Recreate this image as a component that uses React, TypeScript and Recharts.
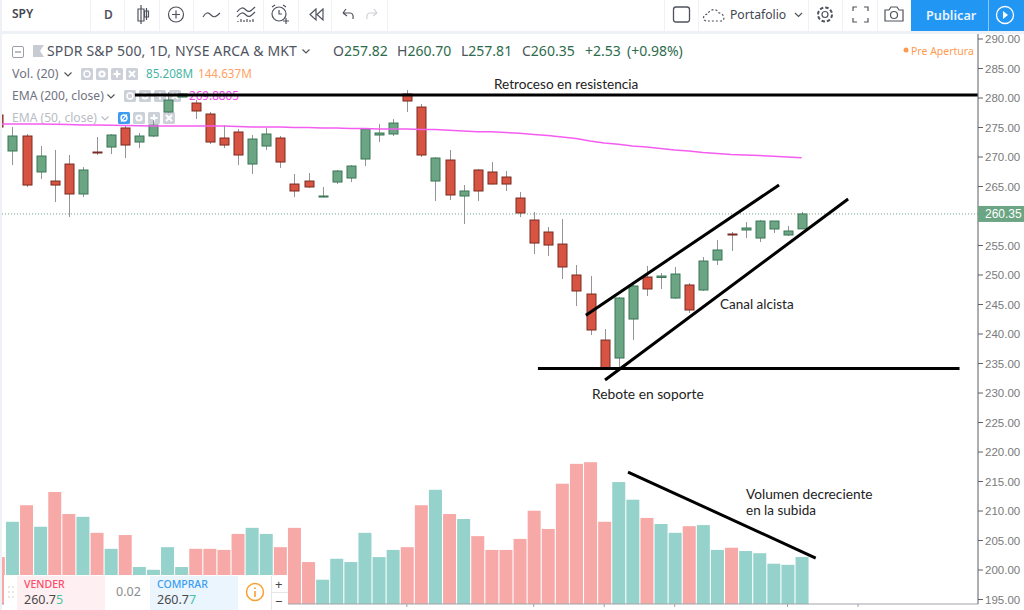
import React from "react";
import { ComposedChart, Bar, Line, XAxis, YAxis, ReferenceLine } from "recharts";

const indices = [-1,0,1,2,3,4,5,6,7,8,9,10,11,12,13,14,15,16,17,18,19,20,21,22,23,24,25,26,27,28,29,30,31,32,33,34,35,36,37,38,39,40,41,42,43,44,45,46,47,48,49,50,51,52,53,54,55,56];
const opens = [277.12,271.02,273.56,267.46,265.93,268.81,263.73,270.85,271.69,274.92,272.54,273.56,277.63,280.17,279.15,277.29,273.22,274.24,268.81,271.86,273.22,265.42,265.93,263.22,265.76,266.44,269.66,273.73,273.9,280.68,278.47,265.93,269.49,263.39,267.8,267.46,266.61,263.05,259.32,257.29,255.25,250,246.78,238.98,235.93,242.54,249.66,249.58,246.1,248.31,247.46,252.54,256.95,257.63,256.27,257.8,256.78,257.82];
const highs = [277.12,275.08,273.9,271.86,271.19,270.34,268.3,273.39,273.9,275.25,274.07,276.27,281,280.85,279.66,277.63,275.42,274.75,273.73,274.92,273.56,267.12,267.29,264.92,267.8,268.64,274.75,275.59,276.44,281.36,278.98,270,271.19,265.25,267.97,269.15,267.63,264.07,260.68,258.14,259.49,251.7,249.83,240.85,246.27,248.31,251.53,250.34,251.36,248.64,253.05,255.93,257.29,258.98,259.32,259.15,258.31,260.7];
const lows = [275.08,268.64,264.9,266.27,262.37,259.83,263.22,270.34,270.51,269.83,271.52,273.39,277.46,280.1,276.44,272.2,271.52,268.64,267.12,271.19,268.14,263.22,264.75,263.14,265.42,265.76,268.47,272.54,273.56,277.63,270,262.54,262.71,258.64,262.54,265.34,264.24,259.83,253.56,253.22,249.32,244.75,239.83,234.07,234.24,238.98,246.44,247.63,245.93,243.56,247.29,251.7,254.07,256.27,255.59,257.12,256.61,257.81];
const closes = [275.08,273.56,265.25,270.17,265.25,263.73,267.8,270.68,273.73,272.03,273.56,275.42,279.66,280.68,277.8,272.54,272.03,270.34,273.05,273.9,269.15,264.24,264.92,263.39,267.63,268.47,274.75,274.07,275.76,279.49,270.34,269.83,263.56,264.24,264.24,265.42,265.42,260.51,255.42,255.08,251.36,247.29,240.68,234.24,246.1,248.14,247.63,249.83,250.17,244.07,252.37,254.24,256.78,257.97,259.15,259.15,257.46,260.35];
const volumes = [85,149,179,140,203,163,158,129,100,125,67,62,103,67,100,100,98,127,138,127,103,138,76,44,82,76,129,85,98,103,179,207,163,154,123,98,98,118,169,136,218,254,257,149,221,189,156,145,129,141,143,98,102,96,92,73,71,85.2];
const ema200 = [275.59,275.59,275.59,275.59,275.54,275.51,275.42,275.42,275.37,275.34,275.3,275.25,275.25,275.25,275.25,275.25,275.25,275.17,275.08,275.08,275.08,275,275,274.92,274.92,274.83,274.83,274.75,274.75,274.75,274.66,274.66,274.53,274.41,274.29,274.29,274.15,274.02,273.81,273.64,273.39,273.13,272.71,272.37,272.15,271.86,271.69,271.44,271.19,271.02,270.76,270.59,270.42,270.34,270.25,270.13,270,269.88];
const priceTicks = [290,285,280,275,270,265,255,250,245,240,235,230,225,220,215,210,205,200,195];
const lastPrice = 260.35;
const timeTicks = [28,37,42,47,55,60];
const resistanceLine = [{ x: 8.72, y: 280.5 }, { x: 68.5, y: 280.5 }];
const supportLine = [{ x: 37.3, y: 234.16 }, { x: 67.2, y: 234.16 }];
const channelUpper = [{ x: 40.7, y: 243.2 }, { x: 54.4, y: 265.25 }];
const channelLower = [{ x: 42.06, y: 232.2 }, { x: 59.3, y: 262.88 }];
const volumeTrend = [{ x: 43.69, y: 216.61 }, { x: 57, y: 202.03 }];

const rows = indices.map((idx, i) => ({
  idx,
  open: opens[i],
  high: highs[i],
  low: lows[i],
  close: closes[i],
  volume: volumes[i],
  ema: ema200[i],
}));

const UI = "'Noto Sans', sans-serif";
const NOTE = "Lato, sans-serif";

const Candle = (p: any) => {
  const { x, y, width, height, payload } = p;
  if (payload == null || height == null) return null;
  const up = payload.close >= payload.open;
  const span = payload.high - payload.low || 1;
  const at = (v: number) => y + ((payload.high - v) / span) * height;
  const top = at(Math.max(payload.open, payload.close));
  const bot = at(Math.min(payload.open, payload.close));
  const cx = Math.round(x + width / 2) + 0.5;
  return (
    <g>
      <line x1={cx} x2={cx} y1={y} y2={y + height} stroke="#949496" strokeWidth={1} />
      <rect x={cx - 4.5} y={top} width={9} height={Math.max(bot - top, 1)} fill={up ? "#6BA583" : "#D75442"} stroke={up ? "#3a7657" : "#7a2a20"} strokeWidth={1} />
    </g>
  );
};

const VolBar = (p: any) => {
  const { x, y, width, height, payload } = p;
  if (payload == null) return null;
  const up = payload.close >= payload.open;
  return <rect x={x} y={y} width={width} height={height} fill={up ? "#95d2cb" : "#f7a9a8"} />;
};

const PriceTick = (p: any) => {
  const { x, y, payload } = p;
  if (payload.value === lastPrice) {
    return (
      <g>
        <rect x={x - 7} y={y - 8} width={46} height={16} fill="#6BA583" />
        <text x={x} y={y + 4} fontFamily="'Liberation Sans'" fontSize={12} fill="#fff">{payload.value.toFixed(2)}</text>
      </g>
    );
  }
  return <text x={x} y={y + 4} fontFamily="'Liberation Sans'" fontSize={11.5} fill="#7a7a7a">{payload.value.toFixed(2)}</text>;
};

const At = ({ x, y, children, style }: any) => (
  <span style={{ position: "absolute", left: x, top: y, transform: "translateY(-50%)", whiteSpace: "nowrap", lineHeight: 1, ...style }}>{children}</span>
);

const Box = ({ x, y, w, h, bg = "#fff" }: any) => (
  <div style={{ position: "absolute", left: x, top: y, width: w, height: h, background: bg }} />
);

const IconBox = ({ x, y, kind, blue }: any) => (
  <svg style={{ position: "absolute", left: x, top: y }} width={12} height={12} viewBox="0 0 12 12">
    <rect width={12} height={12} rx={1.5} fill={blue ? "#3d9bf0" : "#ccd0d8"} />
    {kind === "eye" && <circle cx={6} cy={6} r={3} fill="none" stroke="#fff" strokeWidth={1.4} />}
    {kind === "eye" && blue && <line x1={3} y1={9.5} x2={9} y2={2.5} stroke="#fff" strokeWidth={1.2} />}
    {kind === "gear" && <circle cx={6} cy={6} r={2.6} fill="none" stroke="#fff" strokeWidth={2} />}
    {kind === "plus" && <path d="M6 2.5V9.5M2.5 6H9.5" stroke="#fff" strokeWidth={2} />}
    {kind === "x" && <path d="M3 3L9 9M9 3L3 9" stroke="#fff" strokeWidth={2} />}
  </svg>
);

const IconRow = ({ x, y, blue }: any) => (
  <>
    <IconBox x={x} y={y} kind="eye" blue={blue} />
    <IconBox x={x + 15} y={y} kind="gear" />
    <IconBox x={x + 30} y={y} kind="plus" />
    <IconBox x={x + 45} y={y} kind="x" />
  </>
);

const Chevron = ({ x, y, color = "#555" }: any) => (
  <svg style={{ position: "absolute", left: x, top: y }} width={8} height={5} viewBox="0 0 8 5">
    <path d="M0.5 0.5L4 4L7.5 0.5" fill="none" stroke={color} strokeWidth={1.2} />
  </svg>
);

const Toolbar = () => (
  <svg style={{ position: "absolute", left: 0, top: 0 }} width={1024} height={31} viewBox="0 0 1024 31" fill="none" stroke="#50535e" strokeWidth={1.2}>
    <path d="M141 5V24M141 9h-3v12h6V9zM146.5 8V20M144.5 11h4v6h-4z" />
    <circle cx={176} cy={14.5} r={7.5} />
    <path d="M172 14.5h8M176 10.5v8" />
    <path d="M203 17c3-5 5-5 8-2s5 2 9-2" />
    <path d="M237 12c4-5 6-5 9-2s5 1 9-3M237 17c4-5 6-5 9-2s5 1 9-3M238 22v-1M241 22v-3M244 22v-2M247 22v-3M250 22v-2M253 22v-3" />
    <circle cx={279} cy={14} r={7} />
    <path d="M279 10v4h3M272 7l3-2M286 7l-3-2M283 21h6M286 18v6" />
    <path d="M316 9l-6 5.500 6 5.500zM323 9l-6 5.500 6 5.500z" />
    <path d="M343 13l3-4M343 13l4 3M343 13h7c3 0 3.500 3 3 6" />
    <path stroke="#cdd0d6" d="M377 13l-3-4M377 13l-4 3M377 13h-7c-3 0-3.500 3-3 6" />
    <rect x={673.500} y={7} width={16} height={15} rx={2.500} strokeWidth={1.3} />
    <path strokeDasharray="2 2" d="M706 21c-4-1-3-7 2-7 1-5 9-6 11-1 5 0 7 8 2 8z" />
    <path d="M795 13l3.500 3.500L802 13" />
    <circle cx={825} cy={14.500} r={3} />
    <circle cx={825} cy={14.500} r={7} strokeDasharray="3.500 2" strokeWidth={2} />
    <path d="M853 11V7h4M868 11V7h-4M853 18v4h4M868 18v4h-4" />
    <path d="M885 10h4l2-3h6l2 3h4v11h-18z" />
    <circle cx={894} cy={15} r={3.500} />
  </svg>
);

const App = () => (
  <div style={{ position: "absolute", left: 0, top: 0, width: 1024, height: 610, overflow: "hidden", background: "#eef1f5", fontFamily: UI }}>
    <Box x={2} y={0} w={1022} h={31} />
    {[90, 124, 159, 193, 228, 263, 298, 331, 387].map((x) => (
      <Box key={x} x={x} y={0} w={1} h={31} bg="#eef1f5" />
    ))}
    {[664, 698, 808, 842, 877].map((x) => (
      <Box key={x} x={x} y={0} w={1} h={31} bg="#eef1f5" />
    ))}
    <Toolbar />
    <At x={12} y={14} style={{ fontSize: 12, fontWeight: 600, color: "#434651" }}>SPY</At>
    <At x={104} y={14.5} style={{ fontSize: 12, fontWeight: 600, color: "#50535e" }}>D</At>
    <At x={730} y={14.5} style={{ fontSize: 12.2, color: "#434651" }}>Portafolio</At>
    <Box x={911} y={0} w={113} h={31} bg="#2196f3" />
    <Box x={988} y={0} w={1} h={31} bg="#8cc7f7" />
    <At x={926} y={15} style={{ fontSize: 12.7, fontWeight: 600, color: "#e8f3fe" }}>Publicar</At>
    <svg style={{ position: "absolute", left: 995, top: 5 }} width={20} height={20} viewBox="0 0 20 20">
      <circle cx={10} cy={10} r={8.500} fill="none" stroke="#fff" strokeWidth={1.3} />
      <path d="M8 6l5 4-5 4z" fill="#fff" />
    </svg>

    <Box x={2} y={34} w={1022} h={576} />

    <svg style={{ position: "absolute", left: 12, top: 46 }} width={12} height={12} viewBox="0 0 12 12">
      <rect x={0.500} y={0.500} width={11} height={11} rx={1.500} fill="none" stroke="#9a9ea8" />
      <path d="M3 6h6" stroke="#777b85" />
    </svg>
    <svg style={{ position: "absolute", left: 33, top: 45 }} width={11} height={12} viewBox="0 0 11 12">
      <path d="M0 0h11L7 6l4 6H0z" fill="#c8cbd2" />
    </svg>
    <At x={47} y={51} style={{ fontSize: 14, letterSpacing: 0.15, color: "#50535e" }}>SPDR S&amp;P 500, 1D, NYSE ARCA &amp; MKT</At>
    <Chevron x={302} y={49} />
    {[["O", "257.82", 333], ["H", "260.70", 397], ["L", "257.81", 461], ["C", "260.35", 522]].map(([a, b, x]) => (
      <At key={a as string} x={x} y={51} style={{ fontSize: 14, color: "#2d6b4c" }}>
        <span style={{ color: "#50535e" }}>{a}</span>{b}
      </At>
    ))}
    <At x={585} y={51} style={{ fontSize: 14, color: "#2d6b4c" }}>+2.53</At>
    <At x={627} y={51} style={{ fontSize: 14, color: "#2d6b4c" }}>(+0.98%)</At>
    <svg style={{ position: "absolute", left: 902, top: 46 }} width={8} height={8}><circle cx={4} cy={4} r={2.500} fill="#ff9a52" /></svg>
    <At x={911} y={50.500} style={{ fontSize: 10.500, color: "#ff9a52" }}>Pre Apertura</At>

    <At x={12} y={74} style={{ fontSize: 12.500, color: "#6f7280" }}>Vol. (20)</At>
    <Chevron x={64} y={72} />
    <IconRow x={81} y={68} />
    <At x={146} y={74} style={{ fontSize: 11.700, color: "#45b5a4" }}>85.208M</At>
    <At x={198} y={74} style={{ fontSize: 11.700, color: "#ffa165" }}>144.637M</At>

    <At x={12} y={96} style={{ fontSize: 12.100, color: "#6f7280" }}>EMA (200, close)</At>
    <Chevron x={107} y={94} />
    <IconRow x={124} y={90} />
    <At x={189} y={96} style={{ fontSize: 11.700, color: "#f542f5" }}>269.8805</At>

    <At x={12} y={118} style={{ fontSize: 12.100, color: "#b9bcc4" }}>EMA (50, close)</At>
    <Chevron x={101} y={116} color="#b9bcc4" />
    <IconRow x={118} y={112} blue />

    <div style={{ position: "absolute", left: 0, top: 0 }}>
      <ComposedChart width={1024} height={610} data={rows} margin={{ top: 34, right: 0, bottom: 0, left: 2 }}>
        <XAxis
          xAxisId="t"
          dataKey="idx"
          type="number"
          domain={[-0.709, 68.51]}
          allowDataOverflow
          ticks={timeTicks}
          height={6}
          tickSize={3}
          tickFormatter={() => ""}
          stroke="#a0a3a8"
        />
        <XAxis xAxisId="tv" dataKey="idx" type="number" domain={[-0.709, 68.51]} allowDataOverflow hide />
        <YAxis
          yAxisId="p"
          orientation="right"
          width={46}
          domain={[194.24, 290.85]}
          allowDataOverflow
          ticks={[...priceTicks, lastPrice]}
          interval={0}
          tickSize={5}
          tickMargin={2}
          tick={PriceTick}
          stroke="#5c5f66"
        />
        <YAxis yAxisId="v" hide domain={[0, 1033]} allowDataOverflow />
        <Bar xAxisId="tv" yAxisId="v" dataKey="volume" barSize={13} shape={VolBar} isAnimationActive={false} />
        <Bar xAxisId="t" yAxisId="p" dataKey={(d: any) => [d.low, d.high]} barSize={13} shape={Candle} isAnimationActive={false} />
        <ReferenceLine xAxisId="t" yAxisId="p" y={lastPrice} stroke="#6BA583" strokeDasharray="1 2" strokeWidth={1} />
        <Line xAxisId="t" yAxisId="p" dataKey="ema" stroke="#f55cf0" strokeWidth={1.500} dot={false} activeDot={false} isAnimationActive={false} />
        <ReferenceLine xAxisId="t" yAxisId="p" segment={resistanceLine} stroke="#000" strokeWidth={3} />
        <ReferenceLine xAxisId="t" yAxisId="p" segment={supportLine} stroke="#000" strokeWidth={3} />
        <ReferenceLine xAxisId="t" yAxisId="p" segment={channelUpper} stroke="#000" strokeWidth={3} />
        <ReferenceLine xAxisId="t" yAxisId="p" segment={channelLower} stroke="#000" strokeWidth={3} />
        <ReferenceLine xAxisId="t" yAxisId="p" segment={volumeTrend} stroke="#000" strokeWidth={3} />
      </ComposedChart>
    </div>

    <At x={494} y={85} style={{ fontFamily: NOTE, fontSize: 13.600, color: "#222" }}>Retroceso en resistencia</At>
    <At x={592} y={394} style={{ fontFamily: NOTE, fontSize: 13.800, color: "#222" }}>Rebote en soporte</At>
    <At x={720} y={305} style={{ fontFamily: NOTE, fontSize: 13.500, color: "#222" }}>Canal alcista</At>
    <At x={746} y={494} style={{ fontFamily: NOTE, fontSize: 13.700, color: "#222" }}>Volumen decreciente</At>
    <At x={746} y={511} style={{ fontFamily: NOTE, fontSize: 13.500, color: "#222" }}>en la subida</At>

    <Box x={4} y={575} w={284} h={35} bg="#fff" />
    <Box x={17} y={576} w={88} h={34} bg="#fef0f2" />
    <Box x={150} y={576} w={88} h={34} bg="#ebf5fe" />
    <Box x={271} y={592} w={17} h={1} bg="#e4e6ea" />
    <Box x={271} y={576} w={1} h={34} bg="#e4e6ea" />
    <svg style={{ position: "absolute", left: 8, top: 586 }} width={6} height={14}>
      {[1, 6, 11].map((y) => [1, 5].map((x) => <circle key={`${x}-${y}`} cx={x} cy={y} r={0.8} fill="#c4c7ce" />))}
    </svg>
    <At x={24} y={584} style={{ fontSize: 10.500, fontWeight: 500, color: "#ff4a68" }}>VENDER</At>
    <At x={24} y={600} style={{ fontSize: 12.500, color: "#4a4a4a" }}>260.7<span style={{ color: "#45c4a0" }}>5</span></At>
    <At x={116} y={592} style={{ fontSize: 12.500, color: "#8c8c8c" }}>0.02</At>
    <At x={157} y={584} style={{ fontSize: 10.500, fontWeight: 500, color: "#3a9df0" }}>COMPRAR</At>
    <At x={157} y={600} style={{ fontSize: 12.500, color: "#4a4a4a" }}>260.7<span style={{ color: "#45c4a0" }}>7</span></At>
    <svg style={{ position: "absolute", left: 245, top: 582 }} width={20} height={20} viewBox="0 0 20 20">
      <circle cx={10} cy={10} r={8.500} fill="none" stroke="#f7a030" strokeWidth={1.500} />
      <path d="M10 9v6M10 5.500v1.500" stroke="#f7a030" strokeWidth={1.600} />
    </svg>
    <At x={275} y={584} style={{ fontSize: 13, color: "#444" }}>+</At>
    <At x={275} y={601} style={{ fontSize: 13, color: "#444" }}>−</At>
  </div>
);

export default App;
